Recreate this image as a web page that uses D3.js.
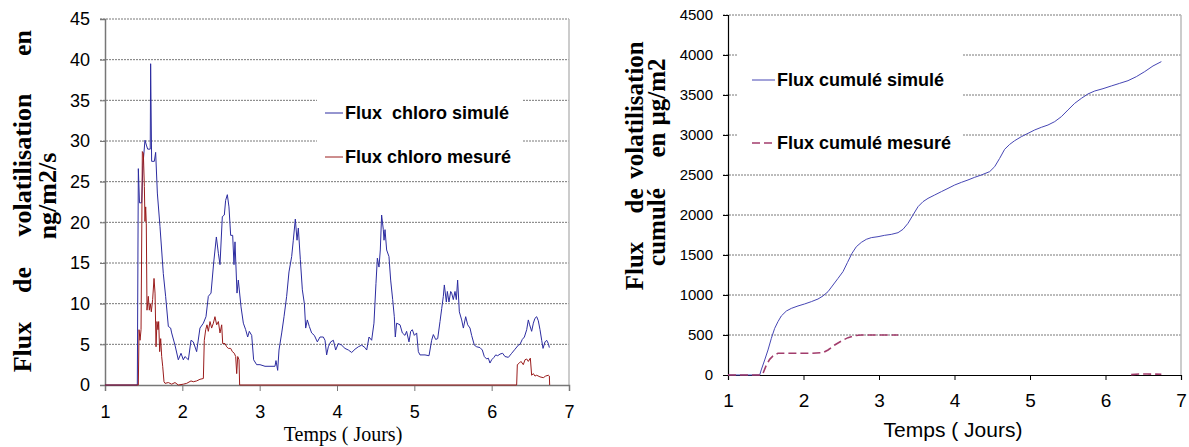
<!DOCTYPE html>
<meta charset="utf-8">
<style>
body { margin: 0; background: #fff; }
svg { display: block; }
.tick text { fill: #000; }
.grid line { stroke: #555; stroke-dasharray: 2,1; stroke-width: 0.8; }
.legend text { font-family: Arial, "Liberation Sans", sans-serif; font-weight: bold; font-size: 18px; white-space: pre; }
.ytitle { font-family: "Times New Roman", "Liberation Serif", serif; font-weight: bold; }
</style>
<svg width="1189" height="447"></svg>
<script src="https://d3js.org/d3.v7.min.js"></script>
<script>

// left chart: instantaneous flux (ng/m2/s)
var simT = [1.0, 1.418, 1.431, 1.446, 1.474, 1.49, 1.517, 1.535, 1.552, 1.585, 1.59, 1.603, 1.638, 1.655, 1.677, 1.711, 1.754, 1.784, 1.819, 1.849, 1.862, 1.905, 1.948, 1.983, 2.013, 2.034, 2.078, 2.112, 2.142, 2.185, 2.228, 2.272, 2.306, 2.336, 2.371, 2.405, 2.44, 2.466, 2.487, 2.517, 2.543, 2.56, 2.582, 2.603, 2.625, 2.651, 2.668, 2.681, 2.707, 2.724, 2.759, 2.789, 2.819, 2.845, 2.866, 2.897, 2.922, 2.961, 3.004, 3.069, 3.198, 3.211, 3.233, 3.25, 3.285, 3.315, 3.349, 3.379, 3.414, 3.435, 3.461, 3.483, 3.5, 3.526, 3.552, 3.578, 3.595, 3.616, 3.642, 3.672, 3.707, 3.746, 3.78, 3.823, 3.845, 3.866, 3.888, 3.918, 3.953, 3.983, 4.017, 4.06, 4.103, 4.147, 4.19, 4.233, 4.276, 4.319, 4.362, 4.384, 4.414, 4.448, 4.478, 4.504, 4.522, 4.543, 4.56, 4.577, 4.599, 4.608, 4.621, 4.642, 4.672, 4.694, 4.72, 4.741, 4.754, 4.771, 4.815, 4.845, 4.879, 4.9, 4.931, 4.953, 4.974, 5.0, 5.03, 5.052, 5.073, 5.138, 5.19, 5.224, 5.246, 5.276, 5.302, 5.332, 5.354, 5.375, 5.388, 5.414, 5.427, 5.448, 5.47, 5.483, 5.504, 5.526, 5.543, 5.56, 5.582, 5.612, 5.634, 5.664, 5.69, 5.72, 5.741, 5.776, 5.806, 5.849, 5.879, 5.905, 5.935, 5.957, 5.978, 6.0, 6.03, 6.052, 6.078, 6.108, 6.142, 6.172, 6.216, 6.259, 6.302, 6.345, 6.366, 6.396, 6.423, 6.453, 6.474, 6.491, 6.517, 6.539, 6.56, 6.582, 6.603, 6.625, 6.647, 6.664, 6.69, 6.711, 6.733, 6.746]
var simV = [0, 0, 26.6, 22.4, 22.4, 27, 30.1, 29.5, 29.0, 29, 39.5, 27.5, 27.5, 28.6, 23.6, 19.5, 13.7, 10.9, 7.2, 7.0, 6.4, 4.9, 3.1, 3.9, 3.1, 3.5, 3.1, 5.5, 5.3, 4.1, 7.0, 7.6, 8.4, 10.9, 11.3, 15.0, 18.2, 16.2, 14.8, 20.7, 20.9, 22.7, 23.4, 21.9, 18.4, 18.4, 14.8, 17.6, 11.3, 12.9, 9.6, 7.6, 6.8, 5.9, 6.6, 6.1, 3.1, 2.5, 2.5, 2.3, 2.3, 3.0, 1.8, 4.3, 6.4, 8.4, 10.9, 13.9, 15.8, 17.8, 20.4, 17.8, 19.3, 15.4, 11.7, 10.0, 7.0, 8.0, 7.2, 6.4, 6.1, 5.3, 5.9, 5.9, 5.5, 3.7, 4.7, 5.3, 5.5, 4.3, 5.1, 4.9, 4.5, 4.3, 4.0, 4.4, 4.7, 4.9, 4.6, 4.3, 5.9, 5.5, 7.6, 12.5, 15.6, 14.5, 16.6, 20.9, 19.1, 17.8, 19.1, 16.6, 15.8, 12.9, 10.5, 8.4, 5.9, 7.6, 7.4, 6.4, 6.1, 6.6, 5.3, 6.6, 6.8, 6.1, 6.4, 4.1, 3.7, 3.7, 3.6, 5.5, 6.2, 5.6, 5.7, 7.8, 9.4, 10.9, 12.3, 10.2, 11.5, 10.2, 11.5, 11.3, 10.5, 11.5, 10.5, 12.9, 9.0, 8.0, 7.0, 8.4, 7.4, 7.0, 6.1, 4.9, 4.7, 4.6, 4.3, 3.5, 3.2, 3.3, 2.7, 3.1, 3.4, 3.7, 3.6, 3.8, 3.9, 3.5, 3.4, 3.9, 4.4, 4.9, 5.0, 5.6, 5.9, 6.8, 8.0, 7.4, 6.6, 7.6, 8.2, 8.4, 7.9, 6.8, 5.5, 4.5, 5.3, 5.5, 5.1, 4.6]

var mesT = [1.0, 1.431, 1.44, 1.453, 1.466, 1.483, 1.496, 1.509, 1.517, 1.526, 1.534, 1.543, 1.56, 1.573, 1.586, 1.599, 1.616, 1.634, 1.647, 1.66, 1.672, 1.685, 1.694, 1.707, 1.72, 1.733, 1.746, 1.763, 1.776, 1.819, 1.862, 1.905, 1.948, 2.013, 2.056, 2.112, 2.142, 2.185, 2.228, 2.272, 2.284, 2.302, 2.319, 2.336, 2.358, 2.379, 2.401, 2.422, 2.444, 2.466, 2.487, 2.509, 2.522, 2.552, 2.573, 2.595, 2.625, 2.647, 2.672, 2.69, 2.703, 2.716, 2.733, 2.741, 6.323, 6.332, 6.358, 6.379, 6.409, 6.431, 6.453, 6.474, 6.5, 6.517, 6.539, 6.56, 6.582, 6.625, 6.668, 6.698, 6.733, 6.746, 6.75]
var mesV = [0, 0, 6.8, 5.5, 6.8, 28.7, 28.5, 24.4, 20.1, 21.9, 19.9, 9.2, 10.9, 9.2, 10.0, 9.0, 10.5, 13.1, 11.3, 4.7, 7.8, 6.8, 7.8, 4.1, 5.7, 3.5, 2.3, 0.4, 0.2, 0.3, 0.1, 0.3, 0, 0.1, 0.2, 0.5, 0.4, 0.5, 0.7, 0.8, 5.5, 6.8, 7.4, 6.6, 7.8, 7.0, 7.6, 8.4, 7.4, 7.8, 6.4, 7.4, 5.1, 5.1, 4.7, 4.5, 4.5, 4.1, 3.9, 3.5, 1.4, 3.5, 3.1, 0, 0, 2.5, 2.7, 2.9, 2.5, 3.1, 3.2, 2.9, 3.3, 1.2, 1.4, 1.1, 1.2, 1.0, 0.9, 1.1, 1.2, 1.1, 0]

// right chart: cumulated flux (µg/m2)
var cumSimT = [1.0, 1.42, 1.44, 1.486, 1.53, 1.574, 1.618, 1.662, 1.706, 1.773, 1.839, 1.927, 2.015, 2.104, 2.192, 2.258, 2.325, 2.391, 2.457, 2.523, 2.581, 2.642, 2.7, 2.766, 2.832, 2.898, 2.987, 3.075, 3.163, 3.252, 3.318, 3.384, 3.45, 3.517, 3.583, 3.649, 3.737, 3.826, 3.914, 4.002, 4.091, 4.179, 4.267, 4.355, 4.466, 4.532, 4.598, 4.664, 4.731, 4.797, 4.885, 4.974, 5.062, 5.15, 5.238, 5.327, 5.415, 5.503, 5.592, 5.68, 5.768, 5.857, 5.967, 6.077, 6.188, 6.298, 6.408, 6.519, 6.629, 6.74]
var cumSimV = [0, 0, 63, 188, 313, 458, 583, 667, 738, 800, 833, 863, 888, 917, 950, 988, 1042, 1125, 1208, 1292, 1404, 1521, 1604, 1658, 1696, 1717, 1729, 1746, 1758, 1779, 1821, 1896, 2000, 2104, 2167, 2208, 2250, 2292, 2333, 2375, 2408, 2438, 2471, 2500, 2542, 2604, 2708, 2821, 2883, 2929, 2979, 3021, 3063, 3096, 3125, 3167, 3229, 3313, 3396, 3458, 3513, 3550, 3579, 3613, 3646, 3679, 3729, 3792, 3863, 3917]

var cumMesT = [1.0, 1.44, 1.464, 1.508, 1.552, 1.596, 1.662, 1.75, 2.104, 2.258, 2.325, 2.413, 2.501, 2.59, 2.678, 2.766, 3.252, 4.0, 6.34, 6.45, 6.55, 6.74]
var cumMesV = [0, 0, 21, 125, 196, 238, 271, 271, 271, 279, 313, 375, 425, 467, 492, 500, 500, null, 5, 12, 12, 10]

var xTicks = [1, 2, 3, 4, 5, 6, 7]
var fluxTicks = [0, 5, 10, 15, 20, 25, 30, 35, 40, 45]
var cumTicks = [0, 500, 1000, 1500, 2000, 2500, 3000, 3500, 4000, 4500]

var leftLegend = ["Flux  chloro simulé", "Flux chloro mesuré"]
var rightLegend = ["Flux cumulé simulé", "Flux cumulé mesuré"]

function pairs(t, v) {
  return t.map(function(d, i) { return {t: d, v: v[i]} })
}

var svg = d3.select("svg")

// ---------- left chart ----------
var x1 = d3.scaleLinear().domain([1, 7]).range([105, 569]),
    y1 = d3.scaleLinear().domain([0, 45]).range([385, 19])

var g1 = svg.append("g")

g1.append("g").attr("class", "grid")
  .selectAll("line").data(fluxTicks.slice(1)).enter().append("line")
  .attr("x1", 100).attr("x2", 569)
  .attr("y1", function(d) { return y1(d) }).attr("y2", function(d) { return y1(d) })

g1.append("line").attr("x1", 569).attr("x2", 569).attr("y1", 19).attr("y2", 385)
  .attr("stroke", "#bbb").attr("stroke-width", 1.5)

var yAxis1 = g1.append("g").attr("transform", "translate(105,0)")
  .call(d3.axisLeft(y1).tickValues(fluxTicks).tickSize(5).tickPadding(10).tickFormat(d3.format("d")))
yAxis1.selectAll("text").style("font-family", "Arial, 'Liberation Sans', sans-serif").style("font-size", "18px")
yAxis1.select(".domain").attr("stroke", "#777").attr("stroke-width", 1.5)
yAxis1.selectAll(".tick line").attr("stroke", "#777")

var xAxis1 = g1.append("g").attr("transform", "translate(0,385)")
  .call(d3.axisBottom(x1).tickValues(xTicks).tickSize(6).tickPadding(14).tickFormat(d3.format("d")))
xAxis1.selectAll("text").style("font-family", "Arial, 'Liberation Sans', sans-serif").style("font-size", "18px")
xAxis1.select(".domain").attr("stroke", "#777").attr("stroke-width", 1.5)
xAxis1.selectAll(".tick line").attr("stroke", "#777")

// legend box hides the grid behind it
g1.append("rect").attr("x", 317).attr("y", 86).attr("width", 205).attr("height", 84).attr("fill", "#fff")

var line1 = d3.line().x(function(d) { return x1(d.t) }).y(function(d) { return y1(d.v) })

g1.append("path").datum(pairs(simT, simV)).attr("d", line1)
  .attr("fill", "none").attr("stroke", "#2c2ca0").attr("stroke-width", 1)
g1.append("path").datum(pairs(mesT, mesV)).attr("d", line1)
  .attr("fill", "none").attr("stroke", "#9a1c1c").attr("stroke-width", 1)

var lg1 = g1.append("g").attr("class", "legend")
  .selectAll("g").data(leftLegend).enter().append("g")
  .attr("transform", function(d, i) { return "translate(325," + (113 + i * 44) + ")" })
lg1.append("line").attr("x1", 0).attr("x2", 18)
  .attr("stroke", function(d, i) { return i ? "#9a1c1c" : "#2c2ca0" })
lg1.append("text").attr("x", 20).attr("dy", "0.35em").text(function(d) { return d })

// y title, justified over two lines
var t1 = [["Flux", 347], ["de", 280], ["volatilisation", 165], ["en", 43]]
var t2 = [["ng/m2/s", 196]]
g1.selectAll(".yt1").data(t1).enter().append("text").attr("class", "ytitle")
  .attr("transform", function(d) { return "translate(31," + d[1] + ") rotate(-90)" })
  .attr("text-anchor", "middle").style("font-size", "26px").text(function(d) { return d[0] })
g1.selectAll(".yt2").data(t2).enter().append("text").attr("class", "ytitle")
  .attr("transform", function(d) { return "translate(56," + d[1] + ") rotate(-90)" })
  .attr("text-anchor", "middle").style("font-size", "26px").text(function(d) { return d[0] })

g1.append("text").attr("x", 343).attr("y", 441).attr("text-anchor", "middle")
  .style("font-family", "'Times New Roman', 'Liberation Serif', serif").style("font-size", "20px")
  .text("Temps ( Jours)")

// ---------- right chart ----------
var x2 = d3.scaleLinear().domain([1, 7]).range([728, 1181]),
    y2 = d3.scaleLinear().domain([0, 4500]).range([375, 15])

var g2 = svg.append("g")

g2.append("g").attr("class", "grid")
  .selectAll("line").data(cumTicks.slice(1)).enter().append("line")
  .attr("x1", 723).attr("x2", 1181)
  .attr("y1", function(d) { return y2(d) }).attr("y2", function(d) { return y2(d) })

g2.append("line").attr("x1", 1181).attr("x2", 1181).attr("y1", 15).attr("y2", 375)
  .attr("stroke", "#bbb").attr("stroke-width", 1.5)

// legend box
g2.append("rect").attr("x", 738).attr("y", 45).attr("width", 225).attr("height", 112).attr("fill", "#fff")

var yAxis2 = g2.append("g").attr("transform", "translate(728,0)")
  .call(d3.axisLeft(y2).tickValues(cumTicks).tickSize(5).tickPadding(10).tickFormat(d3.format("d")))
yAxis2.selectAll("text").style("font-family", "Arial, 'Liberation Sans', sans-serif").style("font-size", "15px")
yAxis2.select(".domain").attr("stroke", "#000").attr("stroke-width", 1.2)

var xAxis2 = g2.append("g").attr("transform", "translate(0,375)")
  .call(d3.axisBottom(x2).tickValues(xTicks).tickSize(5).tickPadding(14).tickFormat(d3.format("d")))
xAxis2.selectAll("text").style("font-family", "Arial, 'Liberation Sans', sans-serif").style("font-size", "19px")
xAxis2.select(".domain").attr("stroke", "#000").attr("stroke-width", 1.2)

var line2 = d3.line().defined(function(d) { return d.v != null })
  .x(function(d) { return x2(d.t) }).y(function(d) { return y2(d.v) })

g2.append("path").datum(pairs(cumSimT, cumSimV)).attr("d", line2)
  .attr("fill", "none").attr("stroke", "#4646b4").attr("stroke-width", 1)
g2.append("path").datum(pairs(cumMesT, cumMesV)).attr("d", line2)
  .attr("fill", "none").attr("stroke", "#a23c6c").attr("stroke-width", 1.6).attr("stroke-dasharray", "8,4")

var lg2 = g2.append("g").attr("class", "legend")
  .selectAll("g").data(rightLegend).enter().append("g")
  .attr("transform", function(d, i) { return "translate(752," + (80 + i * 63) + ")" })
lg2.append("line").attr("x1", 0).attr("x2", 23)
  .attr("stroke", function(d, i) { return i ? "#a23c6c" : "#4646b4" })
  .attr("stroke-width", function(d, i) { return i ? 1.6 : 1 })
  .attr("stroke-dasharray", function(d, i) { return i ? "8,4" : null })
lg2.append("text").attr("x", 25).attr("dy", "0.35em").text(function(d) { return d })

var t3 = [["Flux", 266], ["de", 201], ["volatilisation", 110]]
var t4 = [["cumulé", 227], ["en", 145], ["µg/m2", 92]]
g2.selectAll(".yt3").data(t3).enter().append("text").attr("class", "ytitle")
  .attr("transform", function(d) { return "translate(643," + d[1] + ") rotate(-90)" })
  .attr("text-anchor", "middle").style("font-size", "25px").text(function(d) { return d[0] })
g2.selectAll(".yt4").data(t4).enter().append("text").attr("class", "ytitle")
  .attr("transform", function(d) { return "translate(665," + d[1] + ") rotate(-90)" })
  .attr("text-anchor", "middle").style("font-size", "25px").text(function(d) { return d[0] })

g2.append("text").attr("x", 953).attr("y", 437).attr("text-anchor", "middle")
  .style("font-family", "Arial, 'Liberation Sans', sans-serif").style("font-size", "21px")
  .text("Temps ( Jours)")

</script>
</html>
